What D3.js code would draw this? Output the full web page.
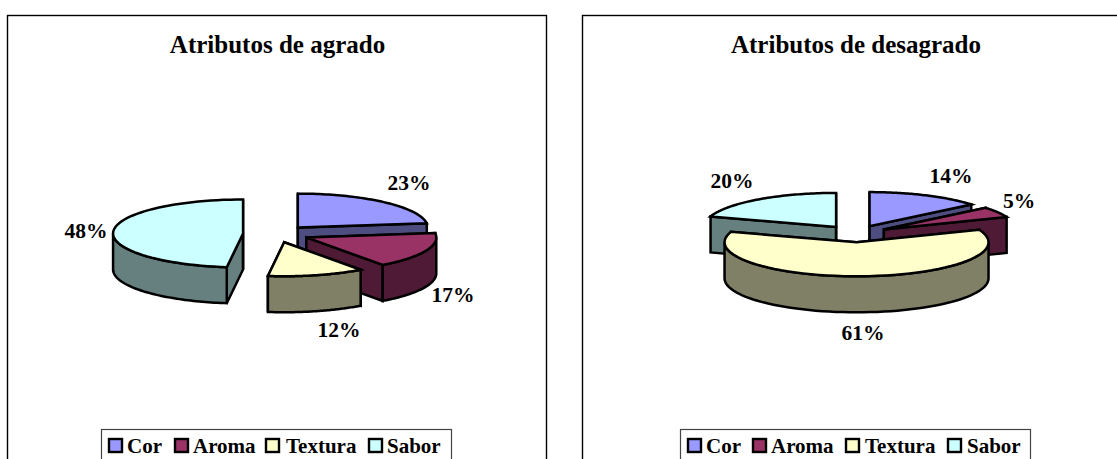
<!DOCTYPE html>
<html><head><meta charset="utf-8">
<script src="https://cdn.jsdelivr.net/npm/d3@7/dist/d3.min.js"></script>
<style>html,body{margin:0;padding:0;background:#fff;overflow:hidden}svg{display:block}text{font-family:"Liberation Serif",serif;font-weight:bold;fill:#000}</style>
</head><body><svg id="c" width="1117" height="459"></svg>
<script>
const categories = ["Cor","Aroma","Textura","Sabor"];
const agrado = [23,17,12,48];
const desagrado = [14,5,61,20];
const titles = ["Atributos de agrado","Atributos de desagrado"];
const colors = ["#9999FF","#993366","#FFFFCC","#CCFFFF"];
const sideColors = ["#4D4D80","#4F1A35","#808066","#668080"];
const drawOrder = [0,3,1,2];
const panels = [
 {values:agrado,title:titles[0],frame:[7,15,539,480],titleX:277.5,cx:276,cy:234,rx:130,
  legend:{x:101.5,w:350,swatch:[108,174,265,368],text:[127,193,286,387]},
  labels:[[409,190],[453,302],[339,337],[86,238]]},
 {values:desagrado,title:titles[1],frame:[582,15,600,480],titleX:856,cx:855.5,cy:233.8,rx:132,
  legend:{x:680.5,w:350,swatch:[687,752,845,947],text:[706,771,865,967]},
  labels:[[951,183],[1019,208],[863,340],[732,188]]}
];
const ry=34, depth=36, explode=33, ratio=ry/132;
const svg=d3.select("#c");
const lineGen=d3.line();
panels.forEach(p=>{
  svg.append("rect").attr("x",p.frame[0]+.5).attr("y",p.frame[1]+.5).attr("width",p.frame[2]).attr("height",p.frame[3])
    .attr("fill","#fff").attr("stroke","#000").attr("stroke-width",1.4);
  svg.append("text").attr("x",p.titleX).attr("y",53).attr("text-anchor","middle").attr("font-size",25).text(p.title);
  const pie=d3.pie().sort(null)(p.values);
  const ang=d3.scaleLinear().domain([0,1]);
  drawOrder.forEach(i=>{
    const s=pie[i], mid=(s.startAngle+s.endAngle)/2;
    const cx=p.cx+explode*Math.sin(mid), cy=p.cy-explode*ratio*Math.cos(mid);
    const pt=(a,dz=0)=>[cx+p.rx*Math.sin(a), cy-ry*Math.cos(a)+dz];
    const arcPts=(a0,a1,dz=0)=>{ang.range([a0,a1]);return d3.range(0,61).map(k=>pt(ang(k/60),dz));};
    const g=svg.append("g").attr("stroke","#000").attr("stroke-width",2.5).attr("stroke-linejoin","miter");
    [s.startAngle,s.endAngle].forEach(a=>{
      g.append("path").attr("fill",sideColors[i])
       .attr("d",lineGen([[cx,cy],pt(a),pt(a,depth),[cx,cy+depth]])+"Z");
    });
    const a0=Math.max(s.startAngle,Math.PI/2), a1=Math.min(s.endAngle,Math.PI*1.5);
    if(a1>a0){
      g.append("path").attr("fill",sideColors[i])
       .attr("d",lineGen([...arcPts(a0,a1),...arcPts(a1,a0,depth)])+"Z");
    }
    g.append("path").attr("fill",colors[i])
     .attr("d",lineGen([[cx,cy],...arcPts(s.startAngle,s.endAngle)])+"Z");
  });
  p.labels.forEach((l,i)=>{
    svg.append("text").attr("x",l[0]).attr("y",l[1]).attr("text-anchor","middle").attr("font-size",21.5).text(p.values[i]+"%");
  });
  svg.append("rect").attr("x",p.legend.x).attr("y",429.5).attr("width",p.legend.w).attr("height",60)
    .attr("fill","#fff").attr("stroke","#444").attr("stroke-width",1.2);
  categories.forEach((c,i)=>{
    svg.append("rect").attr("x",p.legend.swatch[i]+1).attr("y",439).attr("width",13).attr("height",13)
      .attr("fill",colors[i]).attr("stroke","#000").attr("stroke-width",2.4);
    svg.append("text").attr("x",p.legend.text[i]).attr("y",453).attr("font-size",21).text(c);
  });
});
</script></body></html>
